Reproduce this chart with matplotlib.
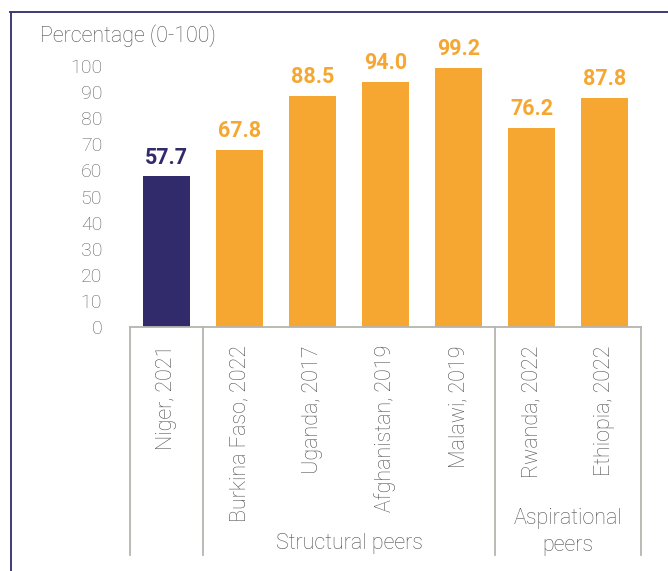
import matplotlib.pyplot as plt
from matplotlib.lines import Line2D
import matplotlib.transforms as mtransforms

# Données
countries = ['Niger, 2021', 'Burkina Faso, 2022', 'Uganda, 2017', 'Afghanistan, 2019',
             'Malawi, 2019', 'Rwanda, 2022', 'Ethiopia, 2022']
values = [57.7, 67.8, 88.5, 94.0, 99.2, 76.2, 87.8]
groups = ['', 'Structural peers', 'Aspirational\npeers']
yticks = [0, 10, 20, 30, 40, 50, 60, 70, 80, 90, 100]

navy = '#312B6B'
orange = '#F5A731'
grey_txt = '#505050'
grey_line = '#b5b5b0'

plt.rcParams['font.family'] = ['Roboto', 'DejaVu Sans']

fig = plt.figure(figsize=(6.68, 5.71), dpi=100)
ax = fig.add_axes([130 / 668, 244 / 571, 511 / 668, 261 / 571])

colors = [navy] + [orange] * (len(values) - 1)
x = list(range(len(values)))
ax.bar(x, values, width=0.64, color=colors, zorder=2)

for i, v in enumerate(values):
    ax.text(i, v + 3, f'{v:.1f}', ha='center', va='bottom', fontsize=15.5,
            fontweight='bold', color=colors[i])

ax.set_xlim(-0.5, 6.5)
ax.set_ylim(0, 100)
ax.set_yticks(yticks)
ax.tick_params(axis='y', length=0, labelsize=14, labelcolor='#606060', pad=20)
for lab in ax.get_yticklabels():
    lab.set_fontweight('light')
ax.set_xticks([])
for s in ['top', 'right', 'left']:
    ax.spines[s].set_visible(False)
ax.spines['bottom'].set_color(grey_line)
ax.spines['bottom'].set_linewidth(1.3)

# Étiquettes des pays (verticales) et séparateurs de groupes
trans = mtransforms.blended_transform_factory(ax.transData, ax.transAxes)
for i, name in enumerate(countries):
    ax.text(i, -18 / 261, name, rotation=90, ha='center', va='top',
            fontsize=15.5, color=grey_txt, fontweight='light', transform=trans)

bottom = -(555 - 327) / 261
for xb in [-0.5, 0.5, 4.5, 6.5]:
    ax.add_line(Line2D([xb, xb], [0, bottom], transform=trans, color=grey_line,
                       lw=1.3, clip_on=False))

ax.text(2.5, -216 / 261, groups[1], ha='center', va='center', fontsize=15.5,
        color=grey_txt, fontweight='light', transform=trans)
ax.text(5.5, -205 / 261, groups[2], ha='center', va='center', fontsize=15.5,
        color=grey_txt, fontweight='light', transform=trans, linespacing=1.35)

fig.text(40 / 668, 1 - 36 / 571, 'Percentage (0-100)', ha='left', va='center',
         fontsize=15.5, color=grey_txt, fontweight='light')

# Cadre
fig.add_artist(Line2D([10 / 668, 1], [1 - 12 / 571] * 2, color='#3D3A7A', lw=1.4))
fig.add_artist(Line2D([11 / 668] * 2, [0, 1 - 12 / 571], color='#3D3A7A', lw=1.4))

fig.savefig('out.png', dpi=100)
